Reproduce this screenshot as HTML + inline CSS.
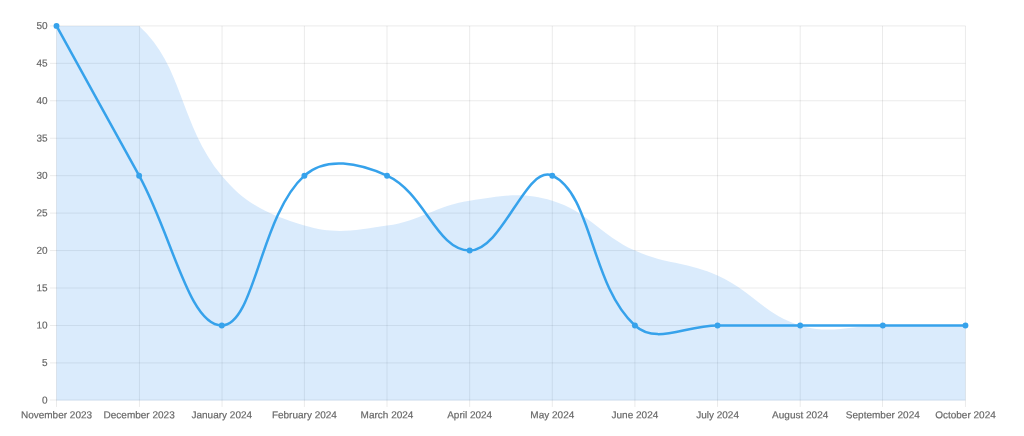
<!DOCTYPE html>
<html lang="en"><head><meta charset="utf-8"><title>Chart</title>
<style>html,body{margin:0;padding:0;background:#fff;overflow:hidden}svg{display:block}text{font-family:"Liberation Sans",Arial,Helvetica,sans-serif;font-size:10px;fill:#666666;stroke:#666666;stroke-width:0.18px;stroke-linejoin:round}</style></head><body>
<svg width="1024" height="436" viewBox="0 0 1024 436">
<rect width="1024" height="436" fill="#fff"/>
<g stroke="#000" stroke-opacity="0.1" stroke-width="0.83" fill="none">
<line x1="56.50" y1="25.90" x2="56.50" y2="400.35"/>
<line x1="56.50" y1="400.35" x2="56.50" y2="406.95"/>
<line x1="139.43" y1="25.90" x2="139.43" y2="400.35"/>
<line x1="139.43" y1="400.35" x2="139.43" y2="406.95"/>
<line x1="222.06" y1="25.90" x2="222.06" y2="400.35"/>
<line x1="222.06" y1="400.35" x2="222.06" y2="406.95"/>
<line x1="304.40" y1="25.90" x2="304.40" y2="400.35"/>
<line x1="304.40" y1="400.35" x2="304.40" y2="406.95"/>
<line x1="387.03" y1="25.90" x2="387.03" y2="400.35"/>
<line x1="387.03" y1="400.35" x2="387.03" y2="406.95"/>
<line x1="469.66" y1="25.90" x2="469.66" y2="400.35"/>
<line x1="469.66" y1="400.35" x2="469.66" y2="406.95"/>
<line x1="552.29" y1="25.90" x2="552.29" y2="400.35"/>
<line x1="552.29" y1="400.35" x2="552.29" y2="406.95"/>
<line x1="634.92" y1="25.90" x2="634.92" y2="400.35"/>
<line x1="634.92" y1="400.35" x2="634.92" y2="406.95"/>
<line x1="717.55" y1="25.90" x2="717.55" y2="400.35"/>
<line x1="717.55" y1="400.35" x2="717.55" y2="406.95"/>
<line x1="800.19" y1="25.90" x2="800.19" y2="400.35"/>
<line x1="800.19" y1="400.35" x2="800.19" y2="406.95"/>
<line x1="882.52" y1="25.90" x2="882.52" y2="400.35"/>
<line x1="882.52" y1="400.35" x2="882.52" y2="406.95"/>
<line x1="965.45" y1="25.90" x2="965.45" y2="400.35"/>
<line x1="965.45" y1="400.35" x2="965.45" y2="406.95"/>
<line x1="56.50" y1="400.00" x2="965.45" y2="400.00"/>
<line x1="49.90" y1="400.00" x2="56.50" y2="400.00"/>
<line x1="56.50" y1="362.91" x2="965.45" y2="362.91"/>
<line x1="49.90" y1="362.91" x2="56.50" y2="362.91"/>
<line x1="56.50" y1="325.46" x2="965.45" y2="325.46"/>
<line x1="49.90" y1="325.46" x2="56.50" y2="325.46"/>
<line x1="56.50" y1="288.01" x2="965.45" y2="288.01"/>
<line x1="49.90" y1="288.01" x2="56.50" y2="288.01"/>
<line x1="56.50" y1="250.57" x2="965.45" y2="250.57"/>
<line x1="49.90" y1="250.57" x2="56.50" y2="250.57"/>
<line x1="56.50" y1="213.12" x2="965.45" y2="213.12"/>
<line x1="49.90" y1="213.12" x2="56.50" y2="213.12"/>
<line x1="56.50" y1="175.68" x2="965.45" y2="175.68"/>
<line x1="49.90" y1="175.68" x2="56.50" y2="175.68"/>
<line x1="56.50" y1="138.24" x2="965.45" y2="138.24"/>
<line x1="49.90" y1="138.24" x2="56.50" y2="138.24"/>
<line x1="56.50" y1="100.79" x2="965.45" y2="100.79"/>
<line x1="49.90" y1="100.79" x2="56.50" y2="100.79"/>
<line x1="56.50" y1="63.34" x2="965.45" y2="63.34"/>
<line x1="49.90" y1="63.34" x2="56.50" y2="63.34"/>
<line x1="56.50" y1="25.90" x2="965.45" y2="25.90"/>
<line x1="49.90" y1="25.90" x2="56.50" y2="25.90"/>
</g>
<path d="M56.50 25.90 C89.55 25.90 117.60 25.90 139.13 25.90 C183.71 66.30 179.51 124.62 221.76 175.68 C245.61 204.50 268.78 214.85 304.40 225.61 C334.88 234.82 354.70 230.49 387.03 225.61 C420.80 220.51 435.88 205.74 469.66 200.64 C501.99 195.76 521.80 191.43 552.29 200.64 C587.91 211.40 600.02 234.75 634.92 250.57 C666.13 264.71 686.35 261.39 717.55 275.53 C752.46 291.35 764.57 314.70 800.19 325.46 C830.67 334.67 849.77 325.46 882.82 325.46 C915.87 325.46 932.40 325.46 965.45 325.46 L965.45 400.60 L56.50 400.60 Z" fill="#469bf0" fill-opacity="0.2" stroke="none"/>
<path d="M56.50 25.90 C89.55 85.81 106.08 115.77 139.13 175.68 C172.18 235.59 188.71 325.46 221.76 325.46 C254.82 325.46 259.82 216.08 304.40 175.68 C325.93 156.17 358.89 162.93 387.03 175.68 C425.00 192.89 436.61 250.57 469.66 250.57 C502.71 250.57 526.20 163.86 552.29 175.68 C592.31 193.81 590.35 285.06 634.92 325.46 C656.45 344.97 684.50 325.46 717.55 325.46 C750.61 325.46 767.13 325.46 800.19 325.46 C833.24 325.46 849.77 325.46 882.82 325.46 C915.87 325.46 932.40 325.46 965.45 325.46" fill="none" stroke="#36a2eb" stroke-width="2.5" stroke-linejoin="miter" stroke-linecap="butt"/>
<circle cx="56.50" cy="25.90" r="2.95" fill="#36a2eb"/>
<circle cx="139.13" cy="175.68" r="2.95" fill="#36a2eb"/>
<circle cx="221.76" cy="325.46" r="2.95" fill="#36a2eb"/>
<circle cx="304.40" cy="175.68" r="2.95" fill="#36a2eb"/>
<circle cx="387.03" cy="175.68" r="2.95" fill="#36a2eb"/>
<circle cx="469.66" cy="250.57" r="2.95" fill="#36a2eb"/>
<circle cx="552.29" cy="175.68" r="2.95" fill="#36a2eb"/>
<circle cx="634.92" cy="325.46" r="2.95" fill="#36a2eb"/>
<circle cx="717.55" cy="325.46" r="2.95" fill="#36a2eb"/>
<circle cx="800.19" cy="325.46" r="2.95" fill="#36a2eb"/>
<circle cx="882.82" cy="325.46" r="2.95" fill="#36a2eb"/>
<circle cx="965.45" cy="325.46" r="2.95" fill="#36a2eb"/>
<text transform="translate(47.60 403.50) rotate(0.03)" text-anchor="end">0</text>
<text transform="translate(47.60 366.06) rotate(0.03)" text-anchor="end">5</text>
<text transform="translate(47.60 328.61) rotate(0.03)" text-anchor="end">10</text>
<text transform="translate(47.60 291.16) rotate(0.03)" text-anchor="end">15</text>
<text transform="translate(47.60 253.72) rotate(0.03)" text-anchor="end">20</text>
<text transform="translate(47.60 216.28) rotate(0.03)" text-anchor="end">25</text>
<text transform="translate(47.60 178.83) rotate(0.03)" text-anchor="end">30</text>
<text transform="translate(47.60 141.39) rotate(0.03)" text-anchor="end">35</text>
<text transform="translate(47.60 103.94) rotate(0.03)" text-anchor="end">40</text>
<text transform="translate(47.60 66.49) rotate(0.03)" text-anchor="end">45</text>
<text transform="translate(47.60 29.05) rotate(0.03)" text-anchor="end">50</text>
<text transform="translate(56.50 418.25) rotate(0.03)" text-anchor="middle">November 2023</text>
<text transform="translate(139.13 418.25) rotate(0.03)" text-anchor="middle">December 2023</text>
<text transform="translate(221.76 418.25) rotate(0.03)" text-anchor="middle">January 2024</text>
<text transform="translate(304.40 418.25) rotate(0.03)" text-anchor="middle">February 2024</text>
<text transform="translate(387.03 418.25) rotate(0.03)" text-anchor="middle">March 2024</text>
<text transform="translate(469.66 418.25) rotate(0.03)" text-anchor="middle">April 2024</text>
<text transform="translate(552.29 418.25) rotate(0.03)" text-anchor="middle">May 2024</text>
<text transform="translate(634.92 418.25) rotate(0.03)" text-anchor="middle">June 2024</text>
<text transform="translate(717.55 418.25) rotate(0.03)" text-anchor="middle">July 2024</text>
<text transform="translate(800.19 418.25) rotate(0.03)" text-anchor="middle">August 2024</text>
<text transform="translate(882.82 418.25) rotate(0.03)" text-anchor="middle">September 2024</text>
<text transform="translate(965.45 418.25) rotate(0.03)" text-anchor="middle">October 2024</text>
</svg></body></html>
